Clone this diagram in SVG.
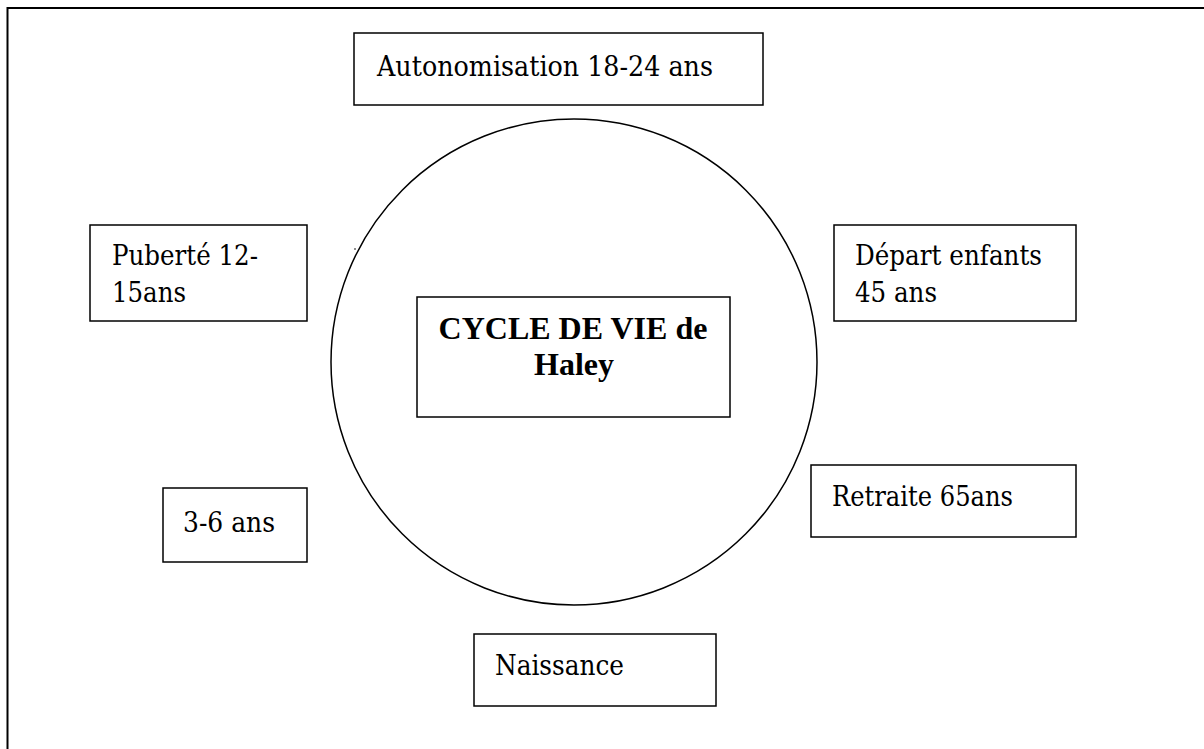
<svg xmlns="http://www.w3.org/2000/svg" width="1204" height="749" viewBox="0 0 1204 749">
<style>
.box{fill:#fff;stroke:#000;stroke-width:1.5}
.t{font-family:"DejaVu Serif","Liberation Serif",serif;font-size:28px;fill:#000}
.b{font-family:"Liberation Serif","Times New Roman",serif;font-size:32px;font-weight:bold;text-anchor:middle;fill:#000}
.frame{fill:none;stroke:#000;stroke-width:2}
</style>
<rect width="1204" height="749" fill="#fff"/>
<g id="frame"><path class="frame" d="M7.5 749 V8 H1204"/></g>
<g id="cycle"><circle cx="574" cy="362" r="243" fill="none" stroke="#000" stroke-width="1.5"/><circle cx="355" cy="249" r="0.8" fill="#000"/></g>
<g id="connectors"></g>
<g id="autonomisation"><rect class="box" x="354" y="33" width="409" height="72"/><text class="t" x="377" y="76" textLength="336" lengthAdjust="spacingAndGlyphs">Autonomisation 18-24 ans</text></g>
<g id="puberte"><rect class="box" x="90" y="225" width="217" height="96"/><text class="t" x="112" y="265" textLength="146" lengthAdjust="spacingAndGlyphs">Puberté 12-</text><text class="t" x="112" y="302" textLength="74" lengthAdjust="spacingAndGlyphs">15ans</text></g>
<g id="depart"><rect class="box" x="834" y="225" width="242" height="96"/><text class="t" x="855" y="265" textLength="187" lengthAdjust="spacingAndGlyphs">Départ enfants</text><text class="t" x="855" y="302" textLength="82" lengthAdjust="spacingAndGlyphs">45 ans</text></g>
<g id="center"><rect class="box" x="417" y="297" width="313" height="120"/><text class="b" x="573" y="339">CYCLE DE VIE de</text><text class="b" x="574" y="375">Haley</text></g>
<g id="age36"><rect class="box" x="163" y="488" width="144" height="74"/><text class="t" x="183" y="532" textLength="92" lengthAdjust="spacingAndGlyphs">3-6 ans</text></g>
<g id="retraite"><rect class="box" x="811" y="465" width="265" height="72"/><text class="t" x="832" y="506" textLength="181" lengthAdjust="spacingAndGlyphs">Retraite 65ans</text></g>
<g id="naissance"><rect class="box" x="474" y="634" width="242" height="72"/><text class="t" x="495" y="675" textLength="129" lengthAdjust="spacingAndGlyphs">Naissance</text></g>
</svg>
